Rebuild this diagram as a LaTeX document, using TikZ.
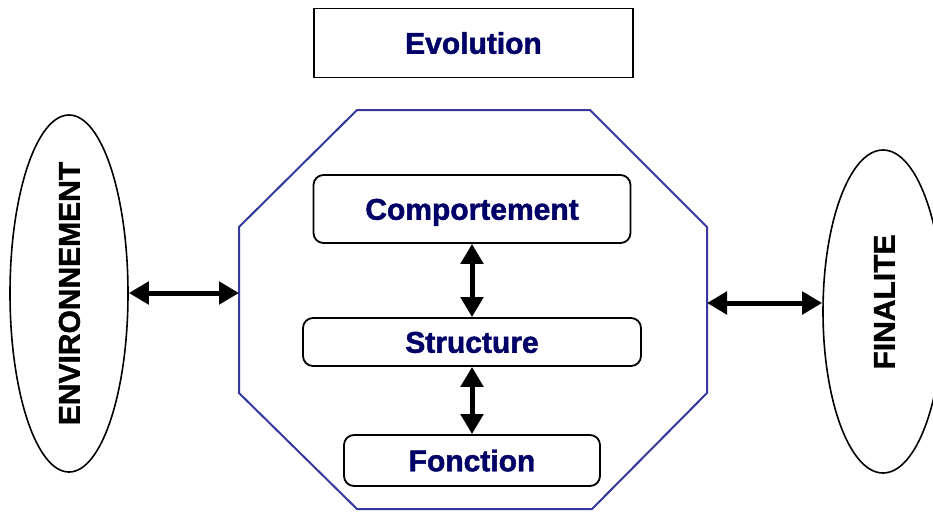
\documentclass[tikz,border=0pt]{standalone}
\usepackage{fontspec}
\setmainfont{Liberation Sans}[BoldFeatures={FakeBold=1.5}]
\usetikzlibrary{shapes.geometric,arrows.meta}
\definecolor{navytext}{RGB}{0,0,102}
\definecolor{octblue}{RGB}{55,55,160}
\begin{document}
\begin{tikzpicture}[x=1pt,y=-1pt,
  lbl/.style={font=\fontsize{30}{36}\selectfont\bfseries,text height=21.5pt,text depth=0pt},
  inner/.style={draw=black,line width=1.8pt,rounded corners=10pt,fill=white,inner sep=0pt,lbl,text=navytext},
  sq/.style={draw=black,line width=1.8pt,inner sep=0pt,lbl,text=navytext},
  oval/.style={draw=black,line width=1.6pt,ellipse,inner sep=0pt},
  dbl/.style={line width=5pt,{Triangle[length=20pt,width=22pt]}-{Triangle[length=20pt,width=22pt]},shorten <=0pt,shorten >=0pt}
]
\fill[white] (0,0) rectangle (933,511);
\useasboundingbox (0,0) rectangle (933,511);

% top box
\node[sq,minimum width=319pt,minimum height=69pt] (evo) at (473.5,43) {Evolution};

% octagon
\draw[octblue,line width=2pt] (357,110) -- (590,110) -- (707,227) -- (707,393)
  -- (592,509) -- (357,509) -- (239,393) -- (239,227) -- cycle;
\coordinate (octW) at (239,293);
\coordinate (octE) at (707,303);

% inner boxes
\node[inner,minimum width=317pt,minimum height=68pt] (comp) at (472,209) {Comportement};
\node[inner,minimum width=338pt,minimum height=48pt] (struc) at (472,342) {Structure};
\node[inner,minimum width=256pt,minimum height=51pt] (fonc) at (472,460.5) {Fonction};

% ellipses
\node[oval,minimum width=118pt,minimum height=357pt] (env) at (69,293.5) {};
\node[lbl,rotate=90] (envt) at (env.center) {ENVIRONNEMENT};
\node[oval,minimum width=120pt,minimum height=323pt] (fin) at (883,311.5) {};
\node[lbl,rotate=90] (fint) at (884,302) {FINALITE};

% arrows
\draw[dbl] (comp.south) -- (struc.north);
\draw[dbl] (struc.south) -- (fonc.north);
\draw[dbl] (env.east |- octW) -- (octW);
\draw[dbl] (octE) -- (octE -| fin.west);
\end{tikzpicture}
\end{document}
